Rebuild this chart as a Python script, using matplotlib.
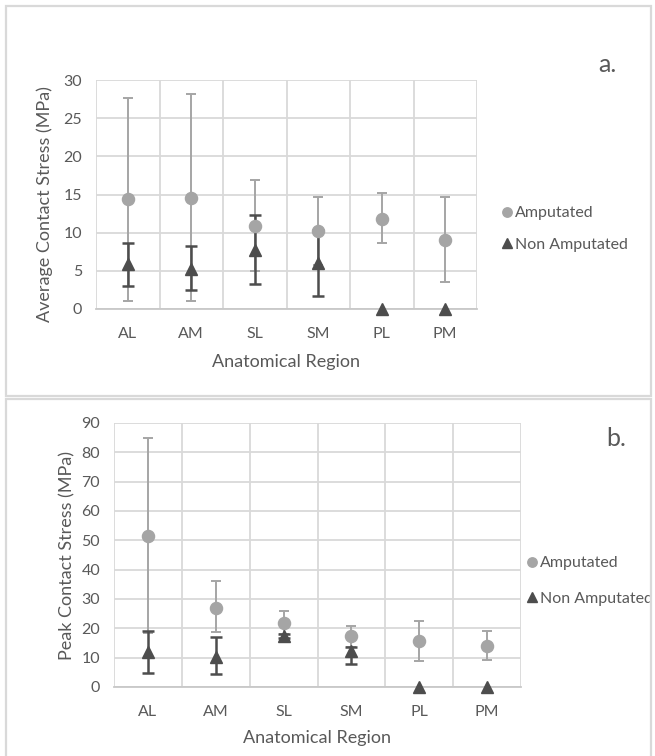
import matplotlib
matplotlib.use("Agg")
import matplotlib.pyplot as plt
from matplotlib.patches import Rectangle
import numpy as np


regions = ["AL", "AM", "SL", "SM", "PL", "PM"]

# panel a: average contact stress (MPa)
avg_amp = [14.4, 14.6, 10.9, 10.2, 11.8, 9.1]
avg_amp_lo = [13.4, 13.5, 5.9, 4.5, 3.1, 5.6]
avg_amp_hi = [13.3, 13.6, 6.0, 4.5, 3.4, 5.6]
avg_non = [5.85, 5.25, 7.75, 6.0, 0.0, 0.0]
avg_non_lo = [2.8, 2.75, 4.5, 4.3, 0.0, 0.0]
avg_non_hi = [2.8, 3.0, 4.6, 4.3, 0.0, 0.0]

# panel b: peak contact stress (MPa)
peak_amp = [51.6, 27.1, 21.9, 17.3, 15.6, 13.9]
peak_amp_lo = [33.3, 8.5, 3.9, 3.6, 6.9, 4.6]
peak_amp_hi = [33.3, 9.0, 3.9, 3.6, 7.0, 5.1]
peak_non = [11.9, 10.3, 17.4, 12.2, 0.0, 0.0]
peak_non_lo = [7.0, 6.0, 0.8, 4.2, 0.0, 0.0]
peak_non_hi = [7.3, 6.6, 0.8, 1.5, 0.0, 0.0]

W, H = 655, 756
TXT = "#595959"
GRID = "#D9D9D9"
AMP = "#A5A5A5"
NON = "#4D4D4D"

plt.rcParams["font.family"] = ["Lato", "DejaVu Sans"]


def fig_rect(left, top, right, bottom):
    # pixel box -> figure fraction [l, b, w, h]
    return [left / W, 1 - bottom / H, (right - left) / W, (bottom - top) / H]


def fx(px):
    return px / W


def fy(py):
    return 1 - py / H


def draw_panel(fig, box, ymax, ystep, amp, amp_lo, amp_hi, non, non_lo, non_hi):
    ax = fig.add_axes(fig_rect(*box))
    x = np.arange(len(regions))
    amp = np.asarray(amp)
    non = np.asarray(non)

    ax.errorbar(x, amp, yerr=[amp_lo, amp_hi], fmt="none", ecolor=AMP,
                elinewidth=1.4, capsize=3.5, capthick=1.4, zorder=3)
    keep = (np.asarray(non_lo) + np.asarray(non_hi)) > 0
    ax.errorbar(x[keep], non[keep],
                yerr=[np.asarray(non_lo)[keep], np.asarray(non_hi)[keep]],
                fmt="none", ecolor=NON, elinewidth=1.8, capsize=4, capthick=1.8, zorder=4)
    h_amp, = ax.plot(x, amp, "o", color=AMP, markersize=8.7, linestyle="none",
                     zorder=5, label="Amputated")
    h_non, = ax.plot(x, non, "^", color=NON, markersize=8.7, linestyle="none",
                     zorder=6, label="Non Amputated", clip_on=False)

    ax.set_xlim(-0.5, len(regions) - 0.5)
    ax.set_ylim(0, ymax)
    ax.set_yticks(np.arange(0, ymax + 1, ystep))
    ax.set_xticks(x)
    ax.set_xticklabels(regions)
    ax.set_xticks(np.arange(-0.5, len(regions)), minor=True)
    ax.grid(True, axis="y", color=GRID, linewidth=1.3, zorder=0)
    ax.grid(True, axis="x", which="minor", color=GRID, linewidth=1.3, zorder=0)
    ax.grid(False, axis="x", which="major")
    ax.tick_params(axis="both", which="both", length=0, colors=TXT, labelsize=11.5)
    ax.tick_params(axis="y", pad=10)
    ax.tick_params(axis="x", pad=13)
    for side in ["top", "left", "right"]:
        ax.spines[side].set_visible(False)
    ax.spines["bottom"].set_color("#C8C8C8")
    ax.spines["bottom"].set_linewidth(1.3)
    ax.set_axisbelow(True)
    return ax, h_amp, h_non


fig = plt.figure(figsize=(W / 100, H / 100), dpi=100)

# panel frames
fig.patches.append(Rectangle((fx(6), fy(396)), 645 / W, 390 / H, transform=fig.transFigure,
                             fill=False, edgecolor=GRID, linewidth=1.6))
fig.patches.append(Rectangle((fx(6), -0.01), 645 / W, fy(399) + 0.01, transform=fig.transFigure,
                             fill=False, edgecolor=GRID, linewidth=1.6))

ax_a, ha1, ha2 = draw_panel(fig, (96, 80, 477, 309), 30, 5, avg_amp, avg_amp_lo, avg_amp_hi,
                            avg_non, avg_non_lo, avg_non_hi)
ax_b, hb1, hb2 = draw_panel(fig, (114, 423, 521, 687), 90, 10, peak_amp, peak_amp_lo, peak_amp_hi,
                            peak_non, peak_non_lo, peak_non_hi)

label_kw = dict(fontsize=13, color=TXT, ha="center", va="center")
fig.text(fx(45), fy(204), "Average Contact Stress (MPa)", rotation=90, **label_kw)
fig.text(fx(67), fy(555), "Peak Contact Stress (MPa)", rotation=90, **label_kw)
fig.text(fx(286), fy(362), "Anatomical Region", **label_kw)
fig.text(fx(317), fy(738), "Anatomical Region", **label_kw)

for ax, h1, h2, lx, ly, gap in [(ax_a, ha1, ha2, 502, 229, 1.1), (ax_b, hb1, hb2, 527, 581, 1.35)]:
    leg = ax.legend([h1, h2], ["Amputated", "Non Amputated"], loc="center left",
                    bbox_to_anchor=(fx(lx), fy(ly)), bbox_transform=fig.transFigure,
                    frameon=False, handlelength=0.6, handletextpad=0.2, labelspacing=gap,
                    fontsize=11.5, markerscale=0.78, borderaxespad=0, borderpad=0)
    for t in leg.get_texts():
        t.set_color(TXT)

fig.text(fx(607), fy(65), "a.", fontsize=18, color=TXT, ha="center", va="center")
fig.text(fx(616), fy(438), "b.", fontsize=18, color=TXT, ha="center", va="center")

fig.savefig("out.png", dpi=100)
